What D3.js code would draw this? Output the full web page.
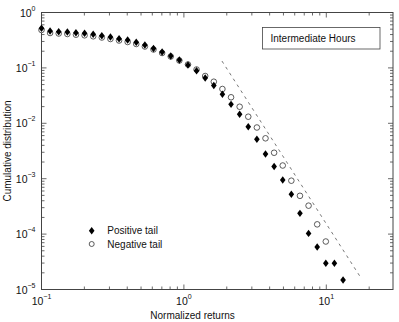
<!DOCTYPE html>
<html>
<head>
<meta charset="utf-8">
<script src="https://cdn.jsdelivr.net/npm/d3@7"></script>
<style>
  body { margin: 0; background: #fff; }
  text { font-family: "Liberation Sans", Arial, sans-serif; fill: #111; }
</style>
</head>
<body>
<script>
// bin centres (normalized returns)
const xBins = [0.1, 0.1149, 0.1321, 0.1519, 0.1746, 0.2007, 0.2307, 0.2652, 0.3048, 0.3504,
  0.4027, 0.4629, 0.5321, 0.6116, 0.7031, 0.8082, 0.929, 1.068, 1.227, 1.411,
  1.622, 1.864, 2.143, 2.463, 2.831, 3.255, 3.741, 4.3, 4.943, 5.682,
  6.531, 7.507, 8.63, 9.92, 11.4, 13.11]

const positiveTail = [0.5186, 0.4636, 0.45, 0.4446, 0.4318, 0.4211, 0.4041, 0.3813, 0.3611, 0.3366,
  0.3188, 0.2898, 0.259, 0.2239, 0.1936, 0.164, 0.1389, 0.1128, 0.089, 0.0657,
  0.0481, 0.0334, 0.022, 0.01454, 0.00868, 0.00514, 0.00279, 0.00166, 0.000947, 0.000523,
  0.000237, 0.000103, 0.0000585, 0.0000297, 0.0000297, 0.0000148]

const negativeTail = [0.4831, 0.4266, 0.4178, 0.4092, 0.3974, 0.3876, 0.3719, 0.3537, 0.3323, 0.3123,
  0.2935, 0.27, 0.2433, 0.2149, 0.1858, 0.1606, 0.136, 0.1151, 0.0936, 0.0714,
  0.0563, 0.0416, 0.0295, 0.0199, 0.01315, 0.0084, 0.00536, 0.00294, 0.00173, 0.00092,
  0.000491, 0.000326, 0.00015, 0.0000735]

// power law guide line end points
const guideLine = [[1.85, 0.133], [17.4, 0.0000166]]

const xTicks = [-1, 0, 1]
const yTicks = [0, -1, -2, -3, -4, -5]

//------------------------------------------------------------------------------

const W = 399, H = 322
const margin = { top: 12.5, right: 6, bottom: 32.5, left: 41.5 }
const width = W - margin.left - margin.right
const height = H - margin.top - margin.bottom

const svg = d3.select("body")
    .append("svg")
    .attr("width", W)
    .attr("height", H)

const g = svg.append("g")
    .attr("transform", "translate(" + margin.left + "," + margin.top + ")")

const x = d3.scaleLog().domain([0.1, 29.4]).range([0, width])
const y = d3.scaleLog().domain([1e-5, 1]).range([height, 0])

// minor ticks
let xMinor = []
for (let e = -1; e <= 1; e++) {
    for (let m = 1; m <= 9; m++) {
        let v = m * Math.pow(10, e)
        if (v >= 0.1 && v <= 29.4) xMinor.push(v)
    }
}
let yMinor = []
for (let e = -5; e <= -1; e++) {
    for (let m = 1; m <= 9; m++) yMinor.push(m * Math.pow(10, e))
}
yMinor.push(1)

const axisColor = "#444"

function tickLen(v) {
    return Math.abs(Math.log10(v) - Math.round(Math.log10(v))) < 1e-6 ? 5 : 3
}

// ticks on all four sides, pointing inward
xMinor.forEach(v => {
    g.append("line").attr("x1", x(v)).attr("x2", x(v)).attr("y1", height).attr("y2", height - tickLen(v))
        .attr("stroke", axisColor).attr("stroke-width", 0.8)
    g.append("line").attr("x1", x(v)).attr("x2", x(v)).attr("y1", 0).attr("y2", tickLen(v))
        .attr("stroke", axisColor).attr("stroke-width", 0.8)
})
yMinor.forEach(v => {
    g.append("line").attr("x1", 0).attr("x2", tickLen(v)).attr("y1", y(v)).attr("y2", y(v))
        .attr("stroke", axisColor).attr("stroke-width", 0.8)
    g.append("line").attr("x1", width).attr("x2", width - tickLen(v)).attr("y1", y(v)).attr("y2", y(v))
        .attr("stroke", axisColor).attr("stroke-width", 0.8)
})

g.append("rect")
    .attr("x", 0).attr("y", 0)
    .attr("width", width).attr("height", height)
    .attr("fill", "none")
    .attr("stroke", axisColor)
    .attr("stroke-width", 1)

// tick labels with exponent
xTicks.forEach(e => {
    let t = g.append("text")
        .attr("x", x(Math.pow(10, e)))
        .attr("y", height + 15.5)
        .attr("text-anchor", "middle")
        .attr("font-size", 10.5)
    t.append("tspan").text("10")
    t.append("tspan").attr("dy", -6).attr("font-size", 7).text(e === 0 ? "0" : (e < 0 ? "\u2212" : "") + Math.abs(e))
})

yTicks.forEach(e => {
    let t = g.append("text")
        .attr("x", -6)
        .attr("y", y(Math.pow(10, e)) + 4)
        .attr("text-anchor", "end")
        .attr("font-size", 10.5)
    t.append("tspan").text("10")
    t.append("tspan").attr("dy", -6).attr("font-size", 7).text(e === 0 ? "0" : (e < 0 ? "\u2212" : "") + Math.abs(e))
})

svg.append("text")
    .attr("x", margin.left + x(1.15))
    .attr("y", H - 3)
    .attr("text-anchor", "middle")
    .attr("font-size", 10)
    .text("Normalized returns")

svg.append("text")
    .attr("transform", "translate(11," + (margin.top + height / 2) + ") rotate(-90)")
    .attr("text-anchor", "middle")
    .attr("font-size", 10)
    .text("Cumulative distribution")

//------------------------------------------------------------------------------

const diamond = "M0,-3.7L2.8,0L0,3.7L-2.8,0Z"

g.append("path")
    .attr("d", d3.line().x(d => x(d[0])).y(d => y(d[1]))(guideLine))
    .attr("fill", "none")
    .attr("stroke", "#555")
    .attr("stroke-width", 0.8)
    .attr("stroke-dasharray", "3,4")

g.append("g")
    .selectAll("circle")
    .data(negativeTail)
    .join("circle")
    .attr("cx", (d, i) => x(xBins[i]))
    .attr("cy", d => y(d))
    .attr("r", 2.8)
    .attr("fill", "white")
    .attr("stroke", "#333")
    .attr("stroke-width", 0.8)

g.append("g")
    .selectAll("path")
    .data(positiveTail)
    .join("path")
    .attr("transform", (d, i) => "translate(" + x(xBins[i]) + "," + y(d) + ")")
    .attr("d", diamond)
    .attr("fill", "black")

//------------------------------------------------------------------------------

// title box
svg.append("rect")
    .attr("x", 262.5).attr("y", 27.5)
    .attr("width", 117.5).attr("height", 21.5)
    .attr("fill", "white")
    .attr("stroke", "#444")
    .attr("stroke-width", 0.8)

svg.append("text")
    .attr("x", 270.5)
    .attr("y", 42)
    .attr("font-size", 10)
    .text("Intermediate Hours")

// legend
svg.append("path")
    .attr("transform", "translate(91.7,230.7)")
    .attr("d", diamond)
    .attr("fill", "black")
svg.append("text").attr("x", 107.3).attr("y", 234.3).attr("font-size", 10).text("Positive tail")

svg.append("circle")
    .attr("cx", 91.7).attr("cy", 244)
    .attr("r", 2.5)
    .attr("fill", "white")
    .attr("stroke", "#333")
    .attr("stroke-width", 0.8)
svg.append("text").attr("x", 107.3).attr("y", 247.8).attr("font-size", 10).text("Negative tail")
</script>
</body>
</html>
